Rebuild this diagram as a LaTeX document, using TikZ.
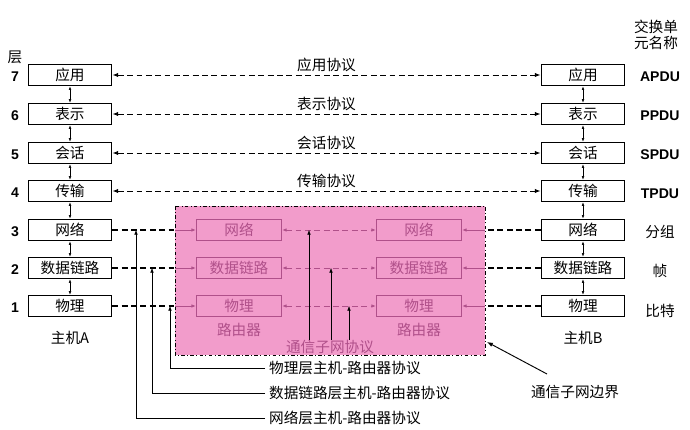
\documentclass[tikz,border=0pt]{standalone}
\usepackage{fontspec}
\setmainfont{Liberation Sans}
\newfontfamily\cjk{Noto Sans CJK SC}
\usetikzlibrary{arrows.meta}
\definecolor{subnetpink}{HTML}{F29CCB}
\definecolor{routerline}{HTML}{B0508A}
\tikzset{
  hostbox/.style={draw, very thick, fill=white, minimum width=2.5cm, minimum height=0.6cm, font=\cjk\fontsize{12.5}{14}\selectfont},
  routerbox/.style={draw=routerline, thick, minimum width=2.55cm, minimum height=0.6cm, text=routerline, font=\cjk\fontsize{12.5}{14}\selectfont},
  peer/.style={dash pattern=on 5pt off 3pt, thick, {Latex[length=5pt]}-{Latex[length=5pt]}},
  subpeer/.style={dash pattern=on 5pt off 3pt, routerline, thick, {Latex[length=4pt]}-{Latex[length=4pt]}},
  txt/.style={font=\cjk\fontsize{12.5}{14}\selectfont},
  tag/.style={font=\bfseries\fontsize{12}{14}\selectfont}
}
\begin{document}
\begin{tikzpicture}[x=0.03cm, y=-0.03cm]
		\useasboundingbox (0,0) rectangle (690,430);
		\fill[subnetpink] (175,206) rectangle (485,355);
		\draw[thick, dash dot] (175,206) rectangle (485,355);

		% hosts
		\foreach \n/\y/\t in {7/75/应用, 6/114/表示, 5/153/会话, 4/191/传输, 3/230/网络, 2/268/数据链路, 1/306/物理} {
			\node[hostbox] (a\n) at (70,\y) {\t};
			\node[hostbox] (b\n) at (583,\y) {\t};
			\node[tag] (n\n) at (15,\y+2) {\n};
		}
		\foreach \u/\l in {7/6, 6/5, 5/4, 4/3, 3/2, 2/1} {
			\draw[{Latex[length=3pt]}-{Latex[length=3pt]}] (a\u) -- (a\l);
			\draw[{Latex[length=3pt]}-{Latex[length=3pt]}] (b\u) -- (b\l);
		}
		\node[txt] (layer) at (15,57) {层};
		\node[txt, align=center] (unit) at (656,35) {交换单\\元名称};
		\node[txt] (hostA) at (70,338) {主机A};
		\node[txt] (hostB) at (583,338) {主机B};

		% peer protocols
		\foreach \n/\t in {7/应用协议, 6/表示协议, 5/会话协议, 4/传输协议} {
			\draw[peer] (a\n) -- (b\n) node[midway, above=-1pt, txt] {\t};
		}
		\foreach \n/\y/\t in {7/77/APDU, 6/116/PPDU, 5/155/SPDU, 4/194/TPDU} {
			\node[tag] (u\n) at (660,\y) {\t};
		}
		\node[txt] (u3) at (660,232) {分组};
		\node[txt] (u2) at (660,271) {帧};
		\node[txt] (u1) at (660,311) {比特};

		% router nodes
		\foreach \n/\y/\t in {3/230/网络, 2/268/数据链路, 1/306/物理} {
			\node[routerbox] (r\n) at (239,\y) {\t};
			\node[routerbox] (s\n) at (419,\y) {\t};
			\coordinate (el\n) at (175,\y);
			\coordinate (er\n) at (485,\y);
			\draw[dash pattern=on 5pt off 3pt, very thick] (a\n) -- (el\n);
			\draw[dash pattern=on 5pt off 3pt, very thick] (b\n) -- (er\n);
			\draw[routerline, thick, -{Latex[length=4pt]}] (el\n) -- (r\n);
			\draw[routerline, thick, -{Latex[length=4pt]}] (er\n) -- (s\n);
			\draw[subpeer] (r\n) -- (s\n);
		}
		\node[txt, text=routerline] (ra) at (239,330) {路由器};
		\node[txt, text=routerline] (rb) at (419,330) {路由器};

		% subnet protocol
		\node[txt, text=routerline] (sub) at (330,347) {通信子网协议};
		\draw[-{Latex[length=4pt]}] (309,340) -- (309,230);
		\draw[-{Latex[length=4pt]}] (331,340) -- (331,268);
		\draw[-{Latex[length=4pt]}] (349,340) -- (349,306);

		% host-router protocols
		\node[txt, anchor=west] (p1) at (265,368) {物理层主机-路由器协议};
		\node[txt, anchor=west] (p2) at (265,393) {数据链路层主机-路由器协议};
		\node[txt, anchor=west] (p3) at (265,418) {网络层主机-路由器协议};
		\draw[-{Latex[length=4pt]}] (p1.west) -| (170,306);
		\draw[-{Latex[length=4pt]}] (p2.west) -| (152,268);
		\draw[-{Latex[length=4pt]}] (p3.west) -| (136,230);

		% boundary
		\node[txt] (edge) at (575,392) {通信子网边界};
		\draw[thick, -{Latex[length=5pt]}] (547,374) -- (487,342);
	\end{tikzpicture}
\end{document}
